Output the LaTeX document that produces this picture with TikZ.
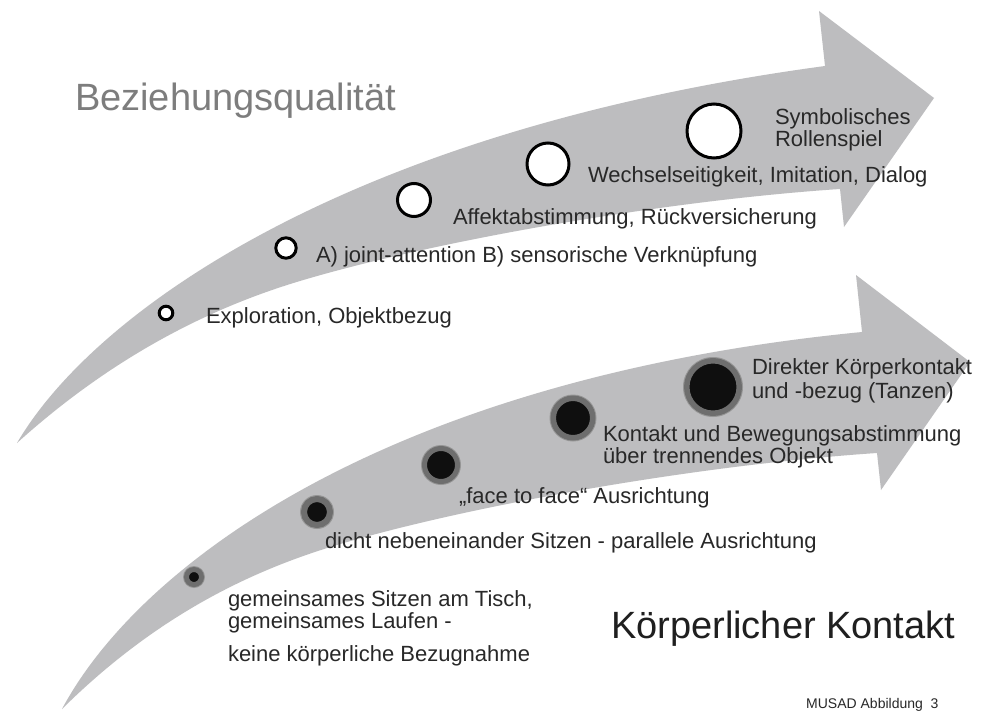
\documentclass[tikz,border=0pt]{standalone}
\usepackage{fontspec}
\setmainfont{Liberation Sans}
\definecolor{arrowgray}{RGB}{189,189,191}
\definecolor{txtc}{RGB}{40,40,40}
\definecolor{titlegray}{RGB}{125,125,125}
\definecolor{ringgray}{RGB}{110,110,110}
\definecolor{halogray}{RGB}{150,150,150}
\definecolor{dotblack}{RGB}{15,15,15}
\tikzset{
  lbl/.style={anchor=base west, inner sep=0pt, outer sep=0pt, text=txtc, font=\fontsize{22}{24}\selectfont},
  bigtitle/.style={anchor=base west, inner sep=0pt, outer sep=0pt, font=\fontsize{38}{40}\selectfont},
  ringnode/.style={circle, draw=black, fill=white, line width=3pt, inner sep=0pt, minimum size=#1},
  dotnode/.style={circle, fill=dotblack, draw=ringgray, inner sep=0pt}
}
\begin{document}
\begin{tikzpicture}[x=1pt,y=-1pt]
\useasboundingbox (0,0) rectangle (981,711);
\fill[white] (0,0) rectangle (981,711);

% upper arrow
\fill[arrowgray] (17,443) .. controls (95,310) and (350,130) .. (825,66)
  -- (819,11) -- (934,98) -- (844,227) -- (840,189)
  .. controls (660,201) and (430,242) .. (300,281)
  .. controls (220,305) and (120,350) .. (17,443)
  -- cycle;

% lower arrow
\fill[arrowgray] (62,709) .. controls (140,563) and (390,378) .. (862,332)
  -- (856,275) -- (970,362) -- (881,490) -- (877,453)
  .. controls (697,465) and (467,506) .. (337,545)
  .. controls (257,569) and (160,612) .. (62,709)
  -- cycle;

% titles
\node[bigtitle, text=titlegray] (title1) at (75,111) {Beziehungsqualität};
\node[bigtitle, text=black!88] (title2) at (611,638) {Körperlicher Kontakt};
\node[anchor=base west, inner sep=0pt, font=\fontsize{14}{16}\selectfont, text=txtc] (musad) at (806,708) {MUSAD Abbildung\ \ 3};

% upper circles
\node[ringnode=13.6pt] (c1) at (166,313) {};
\node[ringnode=20.4pt] (c2) at (286,248) {};
\node[ringnode=33pt]   (c3) at (414,200) {};
\node[ringnode=42pt]   (c4) at (548,164) {};
\node[ringnode=54pt]   (c5) at (714,131) {};

% upper labels
\node[lbl] (l1) at (206,323) {Exploration, Objektbezug};
\node[lbl] (l2) at (316,262) {A) joint-attention B) sensorische Verknüpfung};
\node[lbl] (l3) at (453,225) {Affektabstimmung, Rückversicherung};
\node[lbl] (l4) at (588,183) {Wechselseitigkeit, Imitation, Dialog};
\node[lbl] (l5a) at (775,125) {Symbolisches};
\node[lbl] (l5b) at (775,147) {Rollenspiel};

% lower dots
\fill[halogray] (194,577) circle (11);
\node[dotnode, line width=5pt, minimum size=15pt] (d1) at (194,577) {};
\fill[halogray] (317,512) circle (17);
\node[dotnode, line width=6pt, minimum size=26pt] (d2) at (317,512) {};
\fill[halogray] (441,465) circle (20);
\node[dotnode, line width=5pt, minimum size=33pt] (d3) at (441,465) {};
\fill[halogray] (573,418) circle (23.5);
\node[dotnode, line width=5.5pt, minimum size=39.5pt] (d4) at (573,418) {};
\fill[halogray] (713,387) circle (30);
\node[dotnode, line width=5.5pt, minimum size=52.5pt] (d5) at (713,387) {};

% lower labels
\node[lbl] (m1a) at (228,606) {gemeinsames Sitzen am Tisch,};
\node[lbl] (m1b) at (228,628) {gemeinsames Laufen -};
\node[lbl] (m1c) at (228,661) {keine körperliche Bezugnahme};
\node[lbl] (m2) at (325,548) {dicht nebeneinander Sitzen - parallele Ausrichtung};
\node[lbl] (m3) at (459,503) {„face to face“ Ausrichtung};
\node[lbl] (m4a) at (603,441) {Kontakt und Bewegungsabstimmung};
\node[lbl] (m4b) at (603,463) {über trennendes Objekt};
\node[lbl] (m5a) at (752,374) {Direkter Körperkontakt};
\node[lbl] (m5b) at (752,398) {und -bezug (Tanzen)};
\end{tikzpicture}
\end{document}
